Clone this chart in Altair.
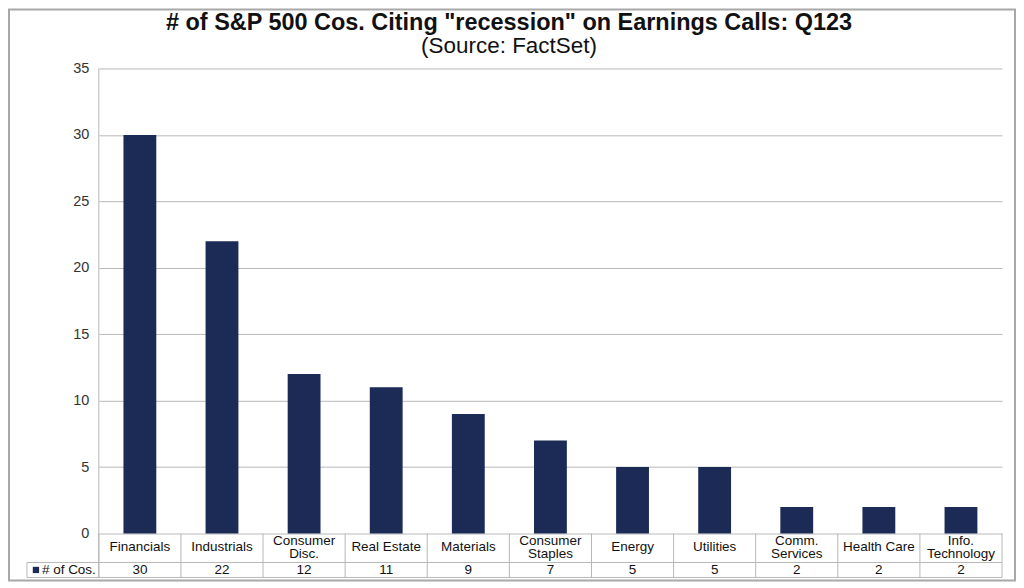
import altair as alt
import pandas as pd

categories = ["Financials", "Industrials", "Consumer Disc.", "Real Estate", "Materials",
              "Consumer Staples", "Energy", "Utilities", "Comm. Services", "Health Care",
              "Info. Technology"]
table_labels = ["Financials", "Industrials", "Consumer\nDisc.", "Real Estate", "Materials",
                "Consumer\nStaples", "Energy", "Utilities", "Comm.\nServices", "Health Care",
                "Info.\nTechnology"]
values = [30, 22, 12, 11, 9, 7, 5, 5, 2, 2, 2]
y_ticks = [0, 5, 10, 15, 20, 25, 30, 35]
title_text = '# of S&P 500 Cos. Citing "recession" on Earnings Calls: Q123'
subtitle_text = "(Source: FactSet)"
series_name = "# of Cos."

W, H = 905, 466
STEP = W / len(categories)
FONT = "Liberation Sans"
NAVY = "#1C2A56"
LINE = "#B8B8B8"
TXT = "#111111"

df = pd.DataFrame({"cat": categories, "label": table_labels, "value": values})
one = pd.DataFrame({"t": [title_text], "s": [subtitle_text], "n": [series_name]})

xenc = alt.X("cat:N", sort=categories, axis=None,
             scale=alt.Scale(paddingInner=0.6, paddingOuter=0.3))

bars = alt.Chart(df).mark_bar(color=NAVY).encode(
    x=xenc,
    y=alt.Y("value:Q", scale=alt.Scale(domain=[0, 35], nice=False),
            axis=alt.Axis(values=y_ticks, grid=True, gridColor=LINE, gridWidth=1,
                          domain=False, ticks=False, labelPadding=10,
                          labelFontSize=14.5, labelFont=FONT, labelColor="#333333",
                          title=None)),
)

multi = "indexof(datum.label, '\\n') >= 0"
cat_text1 = alt.Chart(df).transform_filter("!(" + multi + ")").mark_text(
    font=FONT, fontSize=13.5, color=TXT, baseline="middle").encode(
    x=xenc, y=alt.value(H + 14), text="label:N")
cat_text2 = alt.Chart(df).transform_filter(multi).mark_text(
    font=FONT, fontSize=13.5, color=TXT, lineBreak="\n", baseline="middle",
    lineHeight=14).encode(
    x=xenc, y=alt.value(H + 7), text="label:N")

val_text = alt.Chart(df).mark_text(font=FONT, fontSize=13.5, color=TXT,
                                   baseline="middle").encode(
    x=xenc, y=alt.value(H + 36.5), text="value:Q")

vlines = alt.Chart(df).mark_rule(color=LINE, strokeWidth=1, xOffset=-STEP / 2).encode(
    x=xenc, y=alt.value(H), y2=alt.value(H + 44))

deco = alt.Chart(one)
left_line = deco.mark_rule(color=LINE).encode(x=alt.value(0), y=alt.value(0), y2=alt.value(H + 44))
right_line = deco.mark_rule(color=LINE).encode(x=alt.value(W), y=alt.value(H), y2=alt.value(H + 44))
row_line = deco.mark_rule(color=LINE).encode(x=alt.value(-72), x2=alt.value(W), y=alt.value(H + 29))
bot_line = deco.mark_rule(color=LINE).encode(x=alt.value(-72), x2=alt.value(W), y=alt.value(H + 44))
hdr_left = deco.mark_rule(color=LINE).encode(x=alt.value(-72), y=alt.value(H + 29), y2=alt.value(H + 44))
hdr_sq = deco.mark_square(color=NAVY, opacity=1, size=40).encode(x=alt.value(-63), y=alt.value(H + 36.5))
hdr_txt = deco.mark_text(font=FONT, fontSize=13.5, color=TXT, align="left",
                         baseline="middle").encode(x=alt.value(-57), y=alt.value(H + 36.5), text="n:N")

title = deco.mark_text(font=FONT, fontSize=23.5, fontWeight="bold", color=TXT,
                       baseline="middle").encode(x=alt.value(411), y=alt.value(-46), text="t:N")
subtitle = deco.mark_text(font=FONT, fontSize=22.5, color=TXT,
                          baseline="middle").encode(x=alt.value(411), y=alt.value(-22), text="s:N")
border = deco.mark_rect(fill=None, stroke="#A8A8A8", strokeWidth=2).encode(
    x=alt.value(-90), x2=alt.value(918), y=alt.value(-59), y2=alt.value(513))

chart = alt.layer(
    bars, vlines, left_line, right_line, row_line, bot_line, hdr_left,
    cat_text1, cat_text2, val_text, hdr_sq, hdr_txt, title, subtitle, border
).properties(
    width=W, height=H,
    padding={"left": 91, "top": 60, "right": 14, "bottom": 48},
    autosize=alt.AutoSizeParams(type="none"),
    background="white",
).configure_view(stroke=None)

chart.save("out.html", embed_options={"renderer": "svg", "actions": False})
